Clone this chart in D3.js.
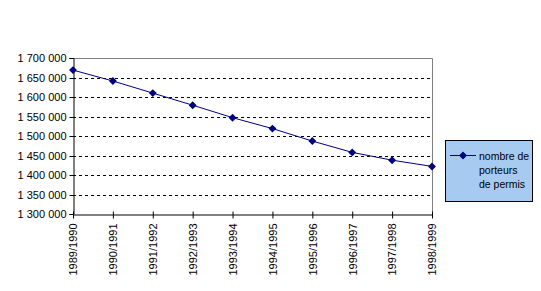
<!DOCTYPE html>
<html>
<head>
<meta charset="utf-8">
<script src="https://cdn.jsdelivr.net/npm/d3@7"></script>
<style>
body { margin: 0; background: #fff; }
text { font-family: "Liberation Sans", Arial, sans-serif; font-size: 11px; fill: #000; }
</style>
</head>
<body>
<div class="chart"></div>
<script>
// data
var saisons = ["1989/1990", "1990/1991", "1991/1992", "1992/1993", "1993/1994",
	"1994/1995", "1995/1996", "1996/1997", "1997/1998", "1998/1999"];
var porteurs = [1669000, 1641000, 1610000, 1579000, 1547000,
	1519000, 1487000, 1458000, 1438000, 1422000];
var yTicks = [1300000, 1350000, 1400000, 1450000, 1500000, 1550000, 1600000, 1650000, 1700000];
var serieNom = ["nombre de", "porteurs", "de permis"];

var W = 541, H = 291;
var pLeft = 73, pRight = 432, pTop = 58, pBottom = 214;

var svg = d3.select(".chart").append("svg")
	.attr("width", W)
	.attr("height", H);

var x = d3.scalePoint()
	.domain(saisons)
	.range([pLeft, pRight]);

var y = d3.scaleLinear()
	.domain([1300000, 1700000])
	.range([pBottom, pTop]);

var fmt = function(v) { return d3.format(",")(v).replace(/,/g, " "); };

// gridlines (dashed)
svg.append("g")
	.selectAll("line")
	.data(yTicks.filter(function(d) { return d > 1300000 && d < 1700000; }))
	.enter().append("line")
	.attr("x1", pLeft).attr("x2", pRight)
	.attr("y1", function(d) { return Math.round(y(d)) + 0.5; })
	.attr("y2", function(d) { return Math.round(y(d)) + 0.5; })
	.attr("stroke", "#000")
	.attr("stroke-dasharray", "3,3");

// plot area frame top/right in grey
svg.append("path")
	.attr("d", "M" + pLeft + "," + (pTop + 0.5) + "H" + (pRight + 0.5) + "V" + pBottom)
	.attr("fill", "none")
	.attr("stroke", "#808080");

// y axis
var yAxis = svg.append("g")
	.attr("transform", "translate(" + (pLeft + 0.5) + ",0)")
	.call(d3.axisLeft(y).tickValues(yTicks).tickFormat(fmt).tickSize(4).tickPadding(3));
yAxis.select(".domain").attr("stroke", "#000");
yAxis.selectAll(".tick").attr("transform", function(d) { return "translate(0," + (Math.round(y(d)) + 0.5) + ")"; });
yAxis.selectAll("text")
	.style("font-family", "Liberation Sans, Arial, sans-serif")
	.style("font-size", "11px");

// x axis
var xAxis = svg.append("g")
	.attr("transform", "translate(0," + (pBottom + 0.5) + ")")
	.call(d3.axisBottom(x).tickSize(0).tickSizeOuter(0));
xAxis.select(".domain").attr("stroke", "#000");
xAxis.selectAll(".tick").append("line")
	.attr("y1", -3).attr("y2", 4)
	.attr("stroke", "#000");
xAxis.selectAll(".tick text")
	.style("font-family", "Liberation Sans, Arial, sans-serif")
	.style("font-size", "11px")
	.attr("text-anchor", "end")
	.attr("transform", "rotate(-90)")
	.attr("x", -9)
	.attr("y", 0)
	.attr("dy", "0.35em");

// series line
var line = d3.line()
	.x(function(d, i) { return x(saisons[i]); })
	.y(function(d) { return y(d); });

svg.append("path")
	.datum(porteurs)
	.attr("d", line)
	.attr("fill", "none")
	.attr("stroke", "#000080")
	.attr("stroke-width", 1);

var diamond = d3.symbol().type(d3.symbolDiamond2).size(40);

svg.append("g")
	.selectAll("path")
	.data(porteurs)
	.enter().append("path")
	.attr("d", diamond)
	.attr("transform", function(d, i) { return "translate(" + x(saisons[i]) + "," + y(d) + ")"; })
	.attr("fill", "#000080");

// legend
var leg = svg.append("g");
leg.append("rect")
	.attr("x", 445.5).attr("y", 140.5)
	.attr("width", 87).attr("height", 61)
	.attr("fill", "#a6caf0")
	.attr("stroke", "#000");
leg.append("line")
	.attr("x1", 450).attr("x2", 476)
	.attr("y1", 155.5).attr("y2", 155.5)
	.attr("stroke", "#000080");
leg.append("path")
	.attr("d", diamond)
	.attr("transform", "translate(463,155.5)")
	.attr("fill", "#000080");
leg.selectAll("text")
	.data(serieNom)
	.enter().append("text")
	.attr("x", 479)
	.attr("y", function(d, i) { return 159.5 + i * 14; })
	.style("font-size", "10.5px")
	.text(function(d) { return d; });
</script>
</body>
</html>
